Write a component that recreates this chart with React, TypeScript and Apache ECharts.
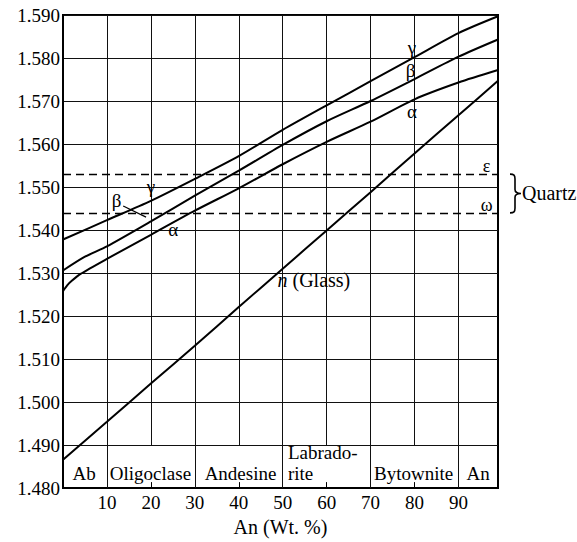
import React, { useEffect, useRef } from "react";
import * as echarts from "echarts";

// ---- data ----
const xTickValues = [10, 20, 30, 40, 50, 60, 70, 80, 90];
const fullGridTicks = [10, 30, 50, 70, 90];
const partialGridTicks = [20, 40, 60, 80];

const gammaAn = [0, 10, 20, 30, 40, 50, 60, 70, 80, 90, 99];
const gammaN = [1.5378, 1.5423, 1.5468, 1.5519, 1.5572, 1.5633, 1.569, 1.5746, 1.5802, 1.5858, 1.5897];

const betaAn = [0, 5, 10, 20, 30, 40, 50, 60, 70, 80, 90, 99];
const betaN = [1.5306, 1.5338, 1.5362, 1.542, 1.548, 1.5538, 1.5598, 1.5653, 1.57, 1.5751, 1.5803, 1.5843];

const alphaAn = [0, 1, 2, 4, 10, 20, 30, 40, 50, 60, 70, 80, 90, 99];
const alphaN = [1.5258, 1.5272, 1.5282, 1.5298, 1.5333, 1.5389, 1.5445, 1.5497, 1.5553, 1.5605, 1.5652, 1.5704, 1.5743, 1.5772];

const glassAn = [0, 10, 20, 30, 40, 50, 60, 70, 80, 90, 99];
const glassN = [1.4866, 1.4954, 1.5043, 1.5131, 1.5221, 1.531, 1.5399, 1.5488, 1.5578, 1.5667, 1.5747];

const quartzEpsilon = 1.553;
const quartzOmega = 1.544;

const mineralNames = ["Ab", "Oligoclase", "Andesine", "Bytownite", "An"];
const mineralAnchorAn = [4.8, 19.9, 40.4, 79.8, 94.5];
const labradoriteLines = ["Labrado-", "rite"];

const FONT = "'Liberation Serif', 'DejaVu Serif', 'Times New Roman', serif";
const BLACK = "#000";

const pairs = (xs: number[], ys: number[]) => xs.map((x, i) => [x, ys[i]]);

echarts.graphic.registerShape(
  "brace",
  echarts.graphic.extendPath(
    "M0,0 C4,0 5,1 5,5 L5,16 C5,19 7,20 11,20 C7,20 5,21 5,24 L5,35 C5,39 4,40 0,40",
    {}
  )
);

export default function App() {
  const ref = useRef<HTMLDivElement>(null);

  useEffect(() => {
    if (!ref.current) return;
    const chart = echarts.init(ref.current, null, { renderer: "svg" });

    const curveSeries = (name: string, data: number[][]) => ({
      name,
      type: "line",
      data,
      symbol: "none",
      smooth: 0.25,
      lineStyle: { color: BLACK, width: 2 },
      z: 5,
    });

    const textLabel = (text: string, an: number, n: number, opts: any = {}) => ({
      name: text,
      coord: [an, n],
      symbol: "circle",
      symbolSize: 0,
      itemStyle: { color: "transparent" },
      label: {
        show: true,
        formatter: opts.formatter || text,
        position: opts.position || "inside",
        distance: 0,
        color: BLACK,
        fontFamily: FONT,
        fontSize: opts.fontSize || 19,
        lineHeight: opts.lineHeight,
        align: opts.align,
        rich: opts.rich,
      },
    });

    const gridLines = [
      ...fullGridTicks.map((t) => [{ coord: [t, 1.48] }, { coord: [t, 1.59] }]),
      ...partialGridTicks.map((t) => [{ coord: [t, 1.49] }, { coord: [t, 1.59] }]),
    ];

    chart.setOption({
      animation: false,
      backgroundColor: "#fff",
      grid: {
        left: 63,
        right: 79,
        top: 15,
        bottom: 46,
        show: true,
        borderColor: BLACK,
        borderWidth: 2,
        containLabel: false,
      },
      xAxis: {
        type: "value",
        min: 0,
        max: 99,
        interval: 10,
        name: "An (Wt. %)",
        nameLocation: "middle",
        nameGap: 24,
        nameTextStyle: { color: BLACK, fontFamily: FONT, fontSize: 20 },
        axisLine: { show: true, lineStyle: { color: BLACK, width: 2 } },
        axisTick: { show: true, inside: true, length: 6, lineStyle: { color: BLACK, width: 1 } },
        splitLine: { show: false },
        axisLabel: {
          color: BLACK,
          fontFamily: FONT,
          fontSize: 19,
          margin: 5,
          showMinLabel: false,
          showMaxLabel: false,
          formatter: (v: number) => (xTickValues.includes(Math.round(v)) ? String(Math.round(v)) : ""),
        },
      },
      yAxis: {
        type: "value",
        min: 1.48,
        max: 1.59,
        interval: 0.01,
        axisLine: { show: true, lineStyle: { color: BLACK, width: 2 } },
        axisTick: { show: false },
        splitLine: { show: true, lineStyle: { color: "#111", width: 1 } },
        axisLabel: {
          color: BLACK,
          fontFamily: FONT,
          fontSize: 19,
          margin: 3,
          formatter: (v: number) => v.toFixed(3),
        },
      },
      series: [
        {
          name: "grid",
          type: "line",
          data: [],
          silent: true,
          z: 1,
          markLine: {
            silent: true,
            symbol: "none",
            precision: 4,
            label: { show: false },
            lineStyle: { color: "#111", width: 1, type: "solid" },
            data: gridLines,
          },
        },
        {
          name: "quartz",
          type: "line",
          data: [],
          silent: true,
          z: 2,
          markLine: {
            silent: true,
            symbol: "none",
            precision: 4,
            label: { show: false },
            lineStyle: { color: BLACK, width: 1.3, type: [8, 5] },
            data: [{ yAxis: quartzEpsilon }, { yAxis: quartzOmega }],
          },
          markPoint: {
            silent: true,
            data: [
              textLabel("ε", 96.4, 1.5549, { fontSize: 18 }),
              textLabel("ω", 96.4, 1.5458, { fontSize: 18 }),
            ],
          },
        },
        curveSeries("γ", pairs(gammaAn, gammaN)),
        curveSeries("β", pairs(betaAn, betaN)),
        curveSeries("α", pairs(alphaAn, alphaN)),
        curveSeries("n (Glass)", pairs(glassAn, glassN)),
        {
          name: "labels",
          type: "line",
          data: [],
          silent: true,
          z: 6,
          markLine: {
            silent: true,
            symbol: "none",
            precision: 4,
            label: { show: false },
            lineStyle: { color: BLACK, width: 1.2, type: "solid" },
            data: [[{ coord: [13.7, 1.5456] }, { coord: [18.9, 1.543] }]],
          },
          markPoint: {
            silent: true,
            data: [
              textLabel("γ", 79.4, 1.5824, { fontSize: 19 }),
              textLabel("β", 79.1, 1.577, { fontSize: 19 }),
              textLabel("α", 79.4, 1.5675, { fontSize: 19 }),
              textLabel("β", 12.2, 1.5469, { fontSize: 19 }),
              textLabel("γ", 20.0, 1.5501, { fontSize: 19 }),
              textLabel("α", 25.1, 1.5401, { fontSize: 19 }),
              textLabel("n (Glass)", 57.1, 1.5283, {
                fontSize: 20,
                formatter: "{i|n} (Glass)",
                rich: { i: { fontStyle: "italic", fontFamily: FONT, fontSize: 20, color: BLACK } },
              }),
              ...mineralNames.map((m, i) => textLabel(m, mineralAnchorAn[i], 1.4834, { fontSize: 19 })),
              textLabel(labradoriteLines[0], 51.2, 1.48823, { fontSize: 19, lineHeight: 19, position: "right" }),
              textLabel(labradoriteLines[1], 51.2, 1.48343, { fontSize: 19, lineHeight: 19, position: "right" }),
            ],
          },
        },
      ],
    });

    const pE = chart.convertToPixel({ gridIndex: 0 }, [99, quartzEpsilon]) as number[];
    const pW = chart.convertToPixel({ gridIndex: 0 }, [99, quartzOmega]) as number[];
    const braceX = pE[0] + 12;
    const braceH = pW[1] - pE[1];
    chart.setOption({
      graphic: [
        {
          type: "brace",
          x: braceX,
          y: pE[1],
          scaleX: 1,
          scaleY: braceH / 40,
          style: { stroke: BLACK, fill: null, lineWidth: 1.6 },
        },
        {
          type: "text",
          x: braceX + 12,
          y: (pE[1] + pW[1]) / 2,
          style: {
            text: "Quartz",
            fill: BLACK,
            font: `20px ${FONT}`,
            verticalAlign: "middle",
            align: "left",
          },
        },
      ],
    });

    return () => chart.dispose();
  }, []);

  return (
    <div
      ref={ref}
      style={{ position: "fixed", left: 0, top: 0, width: 577, height: 542, background: "#fff" }}
    />
  );
}
